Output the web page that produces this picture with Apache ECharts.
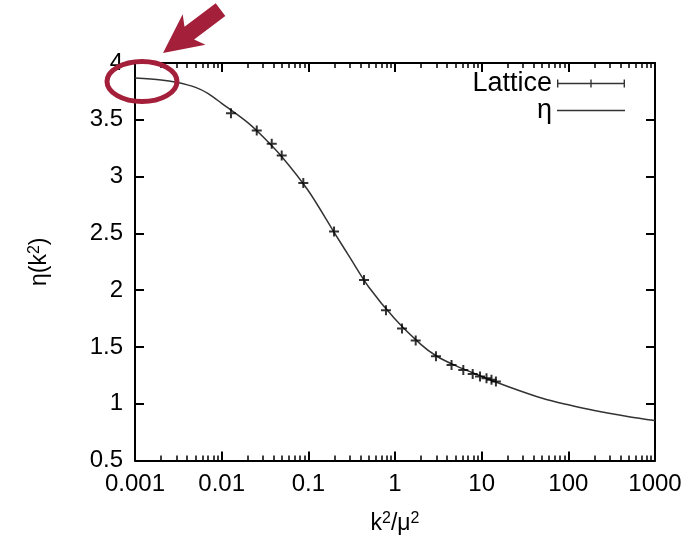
<!DOCTYPE html>
<html><head><meta charset="utf-8">
<script src="https://cdn.jsdelivr.net/npm/echarts@6/dist/echarts.min.js"></script>
<style>html,body{margin:0;padding:0;background:#fff}#c{width:692px;height:540px}</style>
</head><body><div id="c"></div>
<script>
// ---- data ----
const xTickLabels = ['0.001', '0.01', '0.1', '1', '10', '100', '1000'];
const xMinorTicks = [];
for (let d = -3; d < 3; d++) { for (let m = 2; m <= 9; m++) xMinorTicks.push(+(m * Math.pow(10, d)).toPrecision(3)); }

const latticeX = [0.0128, 0.0254, 0.0378, 0.0493, 0.0875, 0.198, 0.439, 0.787, 1.205, 1.733, 2.97, 4.49, 6.14, 7.88, 9.57, 11.37, 12.98, 14.6];
const latticeY = [3.558, 3.406, 3.289, 3.186, 2.944, 2.516, 2.089, 1.823, 1.662, 1.557, 1.419, 1.340, 1.296, 1.261, 1.239, 1.224, 1.211, 1.196];

const curveX = [0.001, 0.002, 0.003, 0.005, 0.007, 0.01, 0.02, 0.03, 0.05, 0.1, 0.2, 0.3, 0.5, 1, 2, 3, 5, 10, 20, 50, 100, 200, 500, 1000];
const curveY = [3.868, 3.851, 3.830, 3.785, 3.73, 3.645, 3.475, 3.35, 3.17, 2.875, 2.505, 2.29, 2.025, 1.745, 1.52, 1.42, 1.335, 1.241, 1.152, 1.048, 0.99, 0.94, 0.886, 0.852];

// ---- chart ----
const FONT = 'Liberation Sans';
const chart = echarts.init(document.getElementById('c'), null, {renderer: 'canvas'});
const lineAxis = () => ({show: true, onZero: false, lineStyle: {color: '#000', width: 2}});
const majTick = () => ({show: true, inside: true, length: 9, lineStyle: {color: '#000', width: 2}});
const minTick = (vals) => ({show: true, inside: true, length: 5, customValues: vals, lineStyle: {color: '#000', width: 1.5}});
const richTitle = {
  a: {fontFamily: FONT, fontSize: 23, color: '#000'},
  s: {fontFamily: FONT, fontSize: 16, color: '#000', verticalAlign: 'top', padding: [0, 0, 10, 0]}
};

const latticeIcon = 'path://M0,3.3H68V4.7H0Z M0,0H1.4V8H0Z M33.3,0H34.7V8H33.3Z M66.6,0H68V8H66.6Z';
const etaIcon = 'path://M0,0H0.01V0.01H0Z M0,3.3H68V4.7H0Z M67.99,7.99H68V8H67.99Z';
const minorLog = xMinorTicks.map(v => Math.log10(v));

chart.setOption({
  animation: false,
  backgroundColor: '#fff',
  grid: {left: 135, right: 37, top: 63, bottom: 78, containLabel: false},
  legend: {
    orient: 'vertical', right: 67, top: 70, padding: 0, align: 'right',
    itemWidth: 68, itemHeight: 8, itemGap: 0,
    textStyle: {fontFamily: FONT, fontSize: 27, color: '#000', lineHeight: 25},
    data: [{name: 'Lattice', icon: latticeIcon}, {name: 'η', icon: etaIcon}]
  },
  xAxis: [
    {
      type: 'log', logBase: 10, min: 0.001, max: 1000, splitNumber: 6, gridIndex: 0, position: 'bottom',
      splitLine: {show: false}, axisLine: lineAxis(), axisTick: majTick(),
      axisLabel: {fontFamily: FONT, fontSize: 24, color: '#000', margin: 12,
        formatter: v => xTickLabels[Math.round(Math.log10(v)) + 3]},
      name: '{a|k}{s|2}{a|/μ}{s|2}', nameLocation: 'middle', nameGap: 50,
      nameTextStyle: {rich: richTitle}
    },
    {
      type: 'log', logBase: 10, min: 0.001, max: 1000, splitNumber: 6, gridIndex: 0, position: 'top',
      splitLine: {show: false}, axisLine: lineAxis(), axisTick: majTick(), axisLabel: {show: false}
    },
    {
      type: 'value', min: -3, max: 3, gridIndex: 0, position: 'bottom',
      splitLine: {show: false}, axisLine: {show: false, onZero: false}, axisTick: minTick(minorLog), axisLabel: {show: false}
    },
    {
      type: 'value', min: -3, max: 3, gridIndex: 0, position: 'top',
      splitLine: {show: false}, axisLine: {show: false, onZero: false}, axisTick: minTick(minorLog), axisLabel: {show: false}
    }
  ],
  yAxis: [
    {
      type: 'value', min: 0.5, max: 4, interval: 0.5, position: 'left', splitLine: {show: false},
      axisLine: lineAxis(), axisTick: majTick(),
      axisLabel: {fontFamily: FONT, fontSize: 24, color: '#000', margin: 12},
      name: '{a|η(k}{s|2}{a|)}', nameLocation: 'middle', nameGap: 82, nameRotate: 90,
      nameTextStyle: {rich: richTitle}
    },
    {
      type: 'value', min: 0.5, max: 4, interval: 0.5, position: 'right', splitLine: {show: false},
      axisLine: lineAxis(), axisTick: majTick(), axisLabel: {show: false}
    }
  ],
  series: [
    {
      name: 'Lattice', type: 'scatter', xAxisIndex: 0, yAxisIndex: 0,
      symbol: 'path://M0,4H10V6H0Z M4,0H6V10H4Z', symbolSize: 10,
      itemStyle: {color: '#000'},
      data: latticeX.map((x, i) => [x, latticeY[i]]), z: 3
    },
    {
      name: 'η', type: 'line', xAxisIndex: 0, yAxisIndex: 0, symbol: 'none',
      smooth: 0.3,
      lineStyle: {color: '#333', width: 1.5}, itemStyle: {color: '#333'},
      data: curveX.map((x, i) => [x, curveY[i]]), z: 2
    }
  ],
  graphic: [
    {type: 'ellipse', shape: {cx: 142, cy: 81.5, rx: 35, ry: 20}, z: 100,
      style: {fill: 'none', stroke: '#a31f3a', lineWidth: 5}},
    {type: 'polygon', z: 100,
      shape: {points: [[163, 53], [182.7, 14.3], [184.5, 26.7], [215.7, 3.3], [225.3, 16.1], [194.1, 39.5], [205.5, 44.7]]},
      style: {fill: '#a31f3a'}}
  ]
});
</script>
</body></html>
